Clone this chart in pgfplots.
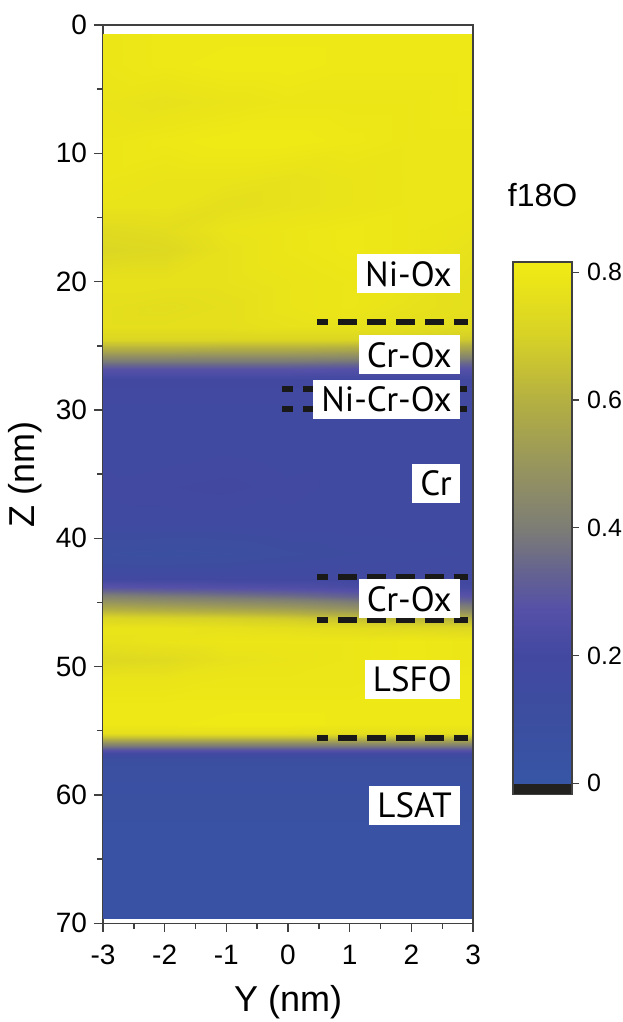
\documentclass[border=0pt]{standalone}
\usepackage{fontspec}
\setmainfont{Liberation Sans}
\newfontfamily\labfont{PT Sans}
\usepackage{pgfplots}
\pgfplotsset{compat=1.18}

% f18O map: columns are Y (nm), Z (nm), f18O; one scanline per depth
\pgfplotstableread{
y z f
-3 0.7 0.79
-2 0.7 0.80
-1 0.7 0.80
0 0.7 0.80
1 0.7 0.80
2 0.7 0.80
2.97 0.7 0.80

-3 3 0.79
-2 3 0.80
-1 3 0.81
0 3 0.81
1 3 0.80
2 3 0.80
2.97 3 0.80

-3 6 0.78
-2 6 0.77
-1 6 0.78
0 6 0.79
1 6 0.79
2 6 0.79
2.97 6 0.80

-3 9 0.79
-2 9 0.80
-1 9 0.81
0 9 0.81
1 9 0.80
2 9 0.79
2.97 9 0.79

-3 12 0.79
-2 12 0.78
-1 12 0.78
0 12 0.77
1 12 0.78
2 12 0.79
2.97 12 0.79

-3 14 0.78
-2 14 0.78
-1 14 0.76
0 14 0.77
1 14 0.78
2 14 0.79
2.97 14 0.79

-3 16 0.74
-2 16 0.75
-1 16 0.78
0 16 0.79
1 16 0.80
2 16 0.79
2.97 16 0.78

-3 17.5 0.72
-2 17.5 0.73
-1 17.5 0.77
0 17.5 0.79
1 17.5 0.80
2 17.5 0.79
2.97 17.5 0.77

-3 20 0.77
-2 20 0.77
-1 20 0.77
0 20 0.78
1 20 0.79
2 20 0.78
2.97 20 0.76

-3 22 0.76
-2 22 0.75
-1 22 0.76
0 22 0.78
1 22 0.79
2 22 0.77
2.97 22 0.76

-3 23.5 0.76
-2 23.5 0.76
-1 23.5 0.76
0 23.5 0.77
1 23.5 0.77
2 23.5 0.76
2.97 23.5 0.74

-3 24.5 0.72
-2 24.5 0.72
-1 24.5 0.72
0 24.5 0.72
1 24.5 0.72
2 24.5 0.70
2.97 24.5 0.68

-3 25.3 0.58
-2 25.3 0.58
-1 25.3 0.57
0 25.3 0.57
1 25.3 0.56
2 25.3 0.55
2.97 25.3 0.53

-3 26.1 0.41
-2 26.1 0.41
-1 26.1 0.41
0 26.1 0.41
1 26.1 0.40
2 26.1 0.39
2.97 26.1 0.38

-3 26.8 0.28
-2 26.8 0.28
-1 26.8 0.28
0 26.8 0.28
1 26.8 0.27
2 26.8 0.27
2.97 26.8 0.27

-3 27.6 0.20
-2 27.6 0.20
-1 27.6 0.20
0 27.6 0.20
1 27.6 0.20
2 27.6 0.20
2.97 27.6 0.20

-3 30 0.17
-2 30 0.17
-1 30 0.17
0 30 0.17
1 30 0.16
2 30 0.17
2.97 30 0.17

-3 33 0.17
-2 33 0.16
-1 33 0.17
0 33 0.16
1 33 0.17
2 33 0.17
2.97 33 0.17

-3 36 0.18
-2 36 0.19
-1 36 0.20
0 36 0.18
1 36 0.17
2 36 0.17
2.97 36 0.17

-3 39 0.16
-2 39 0.16
-1 39 0.16
0 39 0.17
1 39 0.17
2 39 0.17
2.97 39 0.17

-3 41.2 0.09
-2 41.2 0.08
-1 41.2 0.09
0 41.2 0.12
1 41.2 0.14
2 41.2 0.15
2.97 41.2 0.16

-3 43 0.18
-2 43 0.18
-1 43 0.18
0 43 0.18
1 43 0.18
2 43 0.18
2.97 43 0.18

-3 43.8 0.28
-2 43.8 0.27
-1 43.8 0.26
0 43.8 0.25
1 43.8 0.23
2 43.8 0.22
2.97 43.8 0.21

-3 44.6 0.43
-2 44.6 0.41
-1 44.6 0.39
0 44.6 0.37
1 44.6 0.34
2 44.6 0.31
2.97 44.6 0.29

-3 45.4 0.58
-2 45.4 0.56
-1 45.4 0.54
0 45.4 0.52
1 45.4 0.48
2 45.4 0.45
2.97 45.4 0.42

-3 46.2 0.72
-2 46.2 0.71
-1 46.2 0.70
0 46.2 0.68
1 46.2 0.65
2 46.2 0.62
2.97 46.2 0.60

-3 47 0.78
-2 47 0.78
-1 47 0.77
0 47 0.76
1 47 0.75
2 47 0.74
2.97 47 0.73

-3 48 0.77
-2 48 0.78
-1 48 0.79
0 48 0.79
1 48 0.79
2 48 0.80
2.97 48 0.79

-3 49.5 0.73
-2 49.5 0.74
-1 49.5 0.77
0 49.5 0.78
1 49.5 0.79
2 49.5 0.80
2.97 49.5 0.79

-3 51 0.78
-2 51 0.78
-1 51 0.79
0 51 0.79
1 51 0.79
2 51 0.80
2.97 51 0.80

-3 53 0.80
-2 53 0.80
-1 53 0.80
0 53 0.80
1 53 0.80
2 53 0.80
2.97 53 0.80

-3 54.5 0.80
-2 54.5 0.80
-1 54.5 0.81
0 54.5 0.81
1 54.5 0.80
2 54.5 0.80
2.97 54.5 0.80

-3 55.2 0.76
-2 55.2 0.76
-1 55.2 0.76
0 55.2 0.76
1 55.2 0.76
2 55.2 0.76
2.97 55.2 0.76

-3 55.6 0.63
-2 55.6 0.63
-1 55.6 0.63
0 55.6 0.63
1 55.6 0.63
2 55.6 0.63
2.97 55.6 0.63

-3 56 0.44
-2 56 0.44
-1 56 0.44
0 56 0.44
1 56 0.44
2 56 0.44
2.97 56 0.44

-3 56.5 0.28
-2 56.5 0.28
-1 56.5 0.28
0 56.5 0.28
1 56.5 0.28
2 56.5 0.28
2.97 56.5 0.28

-3 56.9 0.16
-2 56.9 0.16
-1 56.9 0.16
0 56.9 0.16
1 56.9 0.16
2 56.9 0.16
2.97 56.9 0.16

-3 57.5 0.08
-2 57.5 0.08
-1 57.5 0.08
0 57.5 0.08
1 57.5 0.08
2 57.5 0.08
2.97 57.5 0.08

-3 62 0.05
-2 62 0.05
-1 62 0.05
0 62 0.05
1 62 0.05
2 62 0.05
2.97 62 0.05

-3 66 0.04
-2 66 0.04
-1 66 0.04
0 66 0.04
1 66 0.04
2 66 0.04
2.97 66 0.04

-3 69.6 0.04
-2 69.6 0.04
-1 69.6 0.04
0 69.6 0.04
1 69.6 0.04
2 69.6 0.04
2.97 69.6 0.04
}\fmap

% colour scale: two columns, one row per colormap node
\pgfplotstableread{
x v f
0 -0.017 -0.017
1 -0.017 -0.017

0 -0.001 -0.001
1 -0.001 -0.001

0 0 0
1 0 0

0 0.1 0.1
1 0.1 0.1

0 0.2 0.2
1 0.2 0.2

0 0.27 0.27
1 0.27 0.27

0 0.33 0.33
1 0.33 0.33

0 0.4 0.4
1 0.4 0.4

0 0.5 0.5
1 0.5 0.5

0 0.6 0.6
1 0.6 0.6

0 0.7 0.7
1 0.7 0.7

0 0.8 0.8
1 0.8 0.8

0 0.816 0.816
1 0.816 0.816
}\fscale

\pgfplotsset{
  /pgf/number format/assume math mode=true,
  colormap={f18o}{
      rgb255(0pt)=(35,32,32); rgb255(16pt)=(35,32,32);
      rgb255(17pt)=(55,85,165); rgb255(117pt)=(60,78,160);
      rgb255(217pt)=(66,72,160); rgb255(287pt)=(85,80,168);
      rgb255(347pt)=(100,98,145); rgb255(417pt)=(125,125,118);
      rgb255(517pt)=(152,150,92); rgb255(617pt)=(180,176,66);
      rgb255(717pt)=(215,210,38); rgb255(817pt)=(238,232,22);
      rgb255(833pt)=(240,234,20)},
}
\tikzset{
  layerbox/.style={fill=white, anchor=east, inner xsep=4pt, inner ysep=3.5pt,
    text height=12.5pt, text depth=0pt, font=\labfont\fontsize{17.5}{19}\selectfont},
  layerline/.style={black!90, line width=3pt, dash pattern=on 9.5pt off 5pt, dash phase=4pt},
}

\begin{document}
\begin{tikzpicture}
\begin{axis}[
    name=main,
    scale only axis, width=185pt, height=449pt,
    xmin=-3, xmax=3, ymin=0, ymax=70, y dir=reverse,
    xtick={-3,-2,...,3}, ytick={0,10,...,70},
    minor xtick={-2.5,-1.5,...,2.5}, minor ytick={5,15,...,65},
    tick align=outside, xtick pos=left, ytick pos=left,
    major tick length=4.5pt, minor tick length=3pt,
    axis line style={draw=black!75, line width=0.7pt},
    every tick/.style={black!75, line width=0.7pt},
    tick label style={font=\fontsize{14}{16}\selectfont},
    xticklabel style={yshift=-3pt},
    label style={font=\fontsize{18}{20}\selectfont},
    xlabel={Y (nm)}, ylabel={Z (nm)},
    xlabel style={yshift=-3.5pt},
    colormap name=f18o,
    point meta min=-0.017, point meta max=0.816,
]
\addplot[surf, shader=interp, point meta=explicit, mesh/cols=7]
    table[x=y, y=z, meta=f] {\fmap};

\draw[layerline] (axis cs:0.47,23.15) -- (axis cs:2.92,23.15);
\draw[layerline] (axis cs:-0.10,28.4) -- (axis cs:2.92,28.4);
\draw[layerline] (axis cs:-0.10,29.9) -- (axis cs:2.92,29.9);
\draw[layerline] (axis cs:0.47,43.0) -- (axis cs:2.92,43.0);
\draw[layerline] (axis cs:0.47,46.4) -- (axis cs:2.92,46.4);
\draw[layerline] (axis cs:0.47,55.6) -- (axis cs:2.92,55.6);

\node[layerbox] at (axis cs:2.79,19.4) {Ni-Ox};
\node[layerbox] at (axis cs:2.79,25.7) {Cr-Ox};
\node[layerbox] at (axis cs:2.79,29.15) {Ni-Cr-Ox};
\node[layerbox] at (axis cs:2.79,35.7) {Cr};
\node[layerbox] at (axis cs:2.79,44.7) {Cr-Ox};
\node[layerbox] at (axis cs:2.79,51.0) {LSFO};
\node[layerbox] at (axis cs:2.79,60.8) {LSAT};

\coordinate (bbA) at (axis cs:-4.67,-1.95);
\coordinate (bbB) at (axis cs:5.416,77.7);
\end{axis}

\begin{axis}[
    at={(main.south east)}, anchor=south west, xshift=20pt, yshift=64.5pt,
    scale only axis, width=29.5pt, height=266pt,
    xmin=0, xmax=1, ymin=-0.017, ymax=0.816,
    xtick=\empty, ytick={0,0.2,0.4,0.6,0.8},
    ytick pos=right, yticklabel pos=right, tick align=outside,
    major tick length=3.5pt,
    axis line style={draw=black!75, line width=0.6pt},
    every tick/.style={black!75, line width=0.6pt},
    yticklabel style={font=\fontsize{12.5}{14}\selectfont, /pgf/number format/fixed, xshift=0.5pt},
    colormap name=f18o,
    point meta min=-0.017, point meta max=0.816,
    axis on top,
    title={f18O},
    title style={font=\fontsize{16}{18}\selectfont, at={(0.5,1)}, anchor=base, yshift=22pt},
]
\addplot[surf, shader=interp, point meta=explicit, mesh/cols=2]
    table[x=x, y=v, meta=f] {\fscale};
\end{axis}

\pgfresetboundingbox
\path[use as bounding box] (bbA) rectangle (bbB);
\end{tikzpicture}
\end{document}
